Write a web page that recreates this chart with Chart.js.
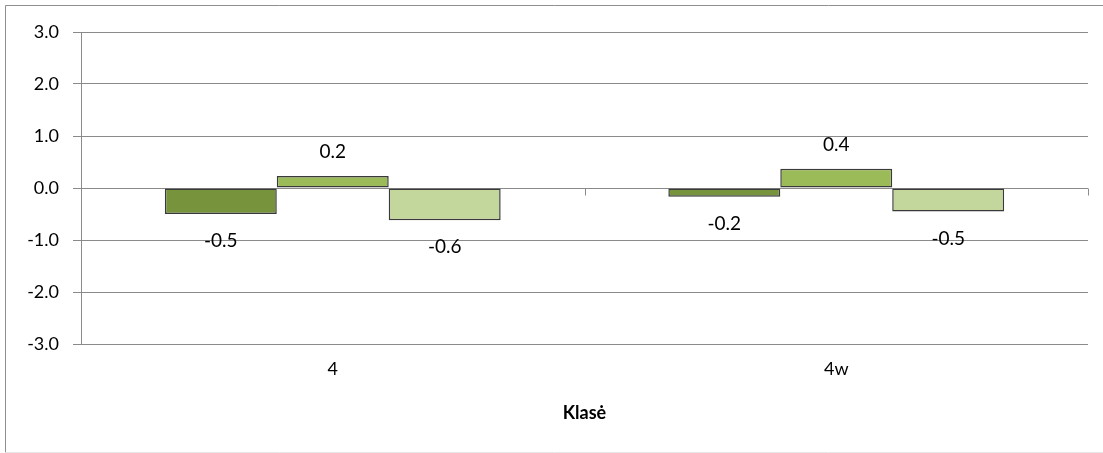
<!DOCTYPE html>
<html>
<head>
<meta charset="utf-8">
<script src="https://cdn.jsdelivr.net/npm/chart.js@4"></script>
<style>
  html, body { margin: 0; padding: 0; background: #fff; }
  #wrap { width: 1103px; height: 453px; position: relative; }
</style>
</head>
<body>
<div id="wrap"><canvas id="myChart"></canvas></div>
<script>
const categories = ['4', '4w'];
const series1 = [-0.5, -0.17];
const series2 = [0.23, 0.37];
const series3 = [-0.62, -0.45];
const yTicks = [-3, -2, -1, 0, 1, 2, 3];
const xTitle = 'Klasė';

const gridColor = '#8a8a8a';
const font = 'Lato, "Open Sans", sans-serif';

// cadre gris autour du graphique
const framePlugin = {
  id: 'frame',
  beforeDraw(chart) {
    const c = chart.ctx;
    c.save();
    c.strokeStyle = '#8f8f8f';
    c.lineWidth = 1;
    c.beginPath();
    c.moveTo(5.5, 452.5);
    c.lineTo(5.5, 5.5);
    c.lineTo(1103, 5.5);
    c.stroke();
    c.strokeStyle = '#e6e6e6';
    c.beginPath();
    c.moveTo(5.5, 452.5);
    c.lineTo(1103, 452.5);
    c.stroke();
    c.restore();
  },
  afterDatasetsDraw(chart) {
    const c = chart.ctx;
    const x = chart.scales.x;
    const y = chart.scales.y;
    const y0 = Math.round(y.getPixelForValue(0)) + 0.5;
    // petites graduations sur l'axe horizontal (entre les catégories)
    c.save();
    c.strokeStyle = gridColor;
    c.lineWidth = 1;
    const step = x.getPixelForValue(1) - x.getPixelForValue(0);
    for (let i = 0; i <= categories.length; i++) {
      const px = Math.round(x.getPixelForValue(0) - step / 2 + i * step) + 0.5;
      c.beginPath();
      c.moveTo(px, y0);
      c.lineTo(px, y0 + 7);
      c.stroke();
    }
    // étiquettes de données
    c.fillStyle = '#000';
    c.font = '19px ' + font;
    c.textAlign = 'center';
    c.textBaseline = 'middle';
    chart.data.datasets.forEach(function (ds, di) {
      const meta = chart.getDatasetMeta(di);
      meta.data.forEach(function (bar, i) {
        const v = ds.data[i];
        const py = v >= 0 ? bar.y - 24 : bar.y + 27;
        c.fillText(v.toFixed(1), bar.x, py);
      });
    });
    c.restore();
  }
};

const ctx = document.getElementById('myChart');
const myChart = new Chart(ctx, {
  type: 'bar',
  data: {
    labels: categories,
    datasets: [
      { label: 'A', data: series1, backgroundColor: '#77933c' },
      { label: 'B', data: series2, backgroundColor: '#9bbb59' },
      { label: 'C', data: series3, backgroundColor: '#c3d69b' }
    ]
  },
  options: {
    responsive: true,
    maintainAspectRatio: false,
    animation: false,
    devicePixelRatio: 1,
    layout: { padding: { top: 32, right: 15, left: 0, bottom: 0 } },
    datasets: {
      bar: {
        categoryPercentage: 0.667,
        barPercentage: 1,
        borderColor: '#3a3a3a',
        borderWidth: 1.5,
        borderSkipped: false
      }
    },
    plugins: {
      legend: { display: false },
      tooltip: { enabled: false }
    },
    scales: {
      x: {
        grid: { display: false, drawTicks: false },
        border: { display: false },
        ticks: { color: '#000', padding: 14, font: { family: font, size: 18 } },
        title: {
          display: true,
          text: xTitle,
          color: '#000',
          font: { family: font, size: 18, weight: 'bold' },
          padding: { top: 0, bottom: 29 }
        },
        afterFit: function (scale) { scale.height = 109; }
      },
      y: {
        min: -3,
        max: 3,
        afterBuildTicks: function (scale) {
          scale.ticks = yTicks.map(function (v) { return { value: v }; });
        },
        grid: { color: gridColor, tickLength: 8, drawTicks: true },
        border: { display: true, color: gridColor },
        ticks: {
          color: '#000',
          padding: 14,
          font: { family: font, size: 18 },
          callback: function (v) { return Number(v).toFixed(1); }
        },
        afterFit: function (scale) { scale.width = 81; }
      }
    }
  },
  plugins: [framePlugin]
});
</script>
</body>
</html>
